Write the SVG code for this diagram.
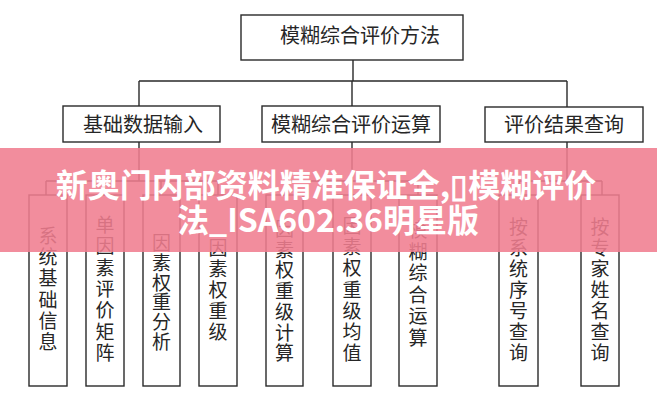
<svg xmlns="http://www.w3.org/2000/svg" width="657" height="400" viewBox="0 0 657 400">
<style>
.box{fill:#fff;stroke:#2a2a2a;stroke-width:1.4}
.ln{fill:none;stroke:#2a2a2a;stroke-width:1.4}
.t{font-family:"Noto Sans CJK SC","Noto Sans CJK JP",sans-serif;font-size:20px;fill:#262626;text-anchor:middle}
.v{font-family:"Noto Sans CJK SC","Noto Sans CJK JP",sans-serif;font-size:19px;fill:#262626;text-anchor:middle}
.bn{font-family:"Noto Sans CJK SC","Noto Sans CJK JP",sans-serif;font-size:32px;font-weight:bold;fill:#fff;text-anchor:middle}
</style>
<rect width="657" height="400" fill="#fff"/>
<g id="connectors">
<path class="ln" d="M353 60V81M139 81H567M139 81V106M352 81V106M567 81V107"/>
<path class="ln" d="M139 142V181M46 181H218M46 181V195M105 181V195M161 181V195M218 181V195"/>
<path class="ln" d="M352 142V181M285 181H418M285 181V195M352 181V195M418 181V195"/>
<path class="ln" d="M567 142V181M519 181H602M519 181V195M602 181V195"/>
</g>
<g id="root"><rect class="box" x="241" y="15" width="222" height="45"/><text class="t" x="360" y="43">模糊综合评价方法</text></g>
<g id="n1"><rect class="box" x="63" y="106" width="157" height="36"/><text class="t" x="143" y="132">基础数据输入</text></g>
<g id="n2"><rect class="box" x="262" y="106" width="178" height="36"/><text class="t" x="351" y="132">模糊综合评价运算</text></g>
<g id="n3"><rect class="box" x="485" y="107" width="158" height="35"/><text class="t" x="564" y="132">评价结果查询</text></g>
<g id="l1"><rect class="box" x="29" y="195" width="38" height="191"/><text class="v"><tspan x="48" y="243">系</tspan><tspan x="48" dy="21.2">统</tspan><tspan x="48" dy="21.2">基</tspan><tspan x="48" dy="21.2">础</tspan><tspan x="48" dy="21.2">信</tspan><tspan x="48" dy="21.2">息</tspan></text></g>
<g id="l2"><rect class="box" x="86" y="195" width="38" height="191"/><text class="v"><tspan x="105" y="232">单</tspan><tspan x="105" dy="21.3">因</tspan><tspan x="105" dy="21.3">素</tspan><tspan x="105" dy="21.3">评</tspan><tspan x="105" dy="21.3">价</tspan><tspan x="105" dy="21.3">矩</tspan><tspan x="105" dy="21.3">阵</tspan></text></g>
<g id="l3"><rect class="box" x="143" y="195" width="37" height="191"/><text class="v"><tspan x="161.5" y="250">因</tspan><tspan x="161.5" dy="19.8">素</tspan><tspan x="161.5" dy="19.8">权</tspan><tspan x="161.5" dy="19.8">重</tspan><tspan x="161.5" dy="19.8">分</tspan><tspan x="161.5" dy="19.8">析</tspan></text></g>
<g id="l4"><rect class="box" x="199" y="195" width="38" height="191"/><text class="v"><tspan x="218" y="255">因</tspan><tspan x="218" dy="21">素</tspan><tspan x="218" dy="21">权</tspan><tspan x="218" dy="21">重</tspan><tspan x="218" dy="21">级</tspan></text></g>
<g id="l5"><rect class="box" x="266" y="195" width="37" height="191"/><text class="v"><tspan x="284.5" y="236">因</tspan><tspan x="284.5" dy="20.7">素</tspan><tspan x="284.5" dy="20.7">权</tspan><tspan x="284.5" dy="20.7">重</tspan><tspan x="284.5" dy="20.7">级</tspan><tspan x="284.5" dy="20.7">计</tspan><tspan x="284.5" dy="20.7">算</tspan></text></g>
<g id="l6"><rect class="box" x="333" y="195" width="38" height="191"/><text class="v"><tspan x="352" y="233">因</tspan><tspan x="352" dy="21.2">素</tspan><tspan x="352" dy="21.2">权</tspan><tspan x="352" dy="21.2">重</tspan><tspan x="352" dy="21.2">级</tspan><tspan x="352" dy="21.2">均</tspan><tspan x="352" dy="21.2">值</tspan></text></g>
<g id="l7"><rect class="box" x="399" y="195" width="38" height="191"/><text class="v"><tspan x="418" y="237">模</tspan><tspan x="418" dy="21.6">糊</tspan><tspan x="418" dy="21.6">综</tspan><tspan x="418" dy="21.6">合</tspan><tspan x="418" dy="21.6">运</tspan><tspan x="418" dy="21.6">算</tspan></text></g>
<g id="l8"><rect class="box" x="499" y="195" width="39" height="191"/><text class="v"><tspan x="518.5" y="234">按</tspan><tspan x="518.5" dy="21">系</tspan><tspan x="518.5" dy="21">统</tspan><tspan x="518.5" dy="21">序</tspan><tspan x="518.5" dy="21">号</tspan><tspan x="518.5" dy="21">查</tspan><tspan x="518.5" dy="21">询</tspan></text></g>
<g id="l9"><rect class="box" x="581" y="195" width="38" height="191"/><text class="v"><tspan x="600" y="234">按</tspan><tspan x="600" dy="21">专</tspan><tspan x="600" dy="21">家</tspan><tspan x="600" dy="21">姓</tspan><tspan x="600" dy="21">名</tspan><tspan x="600" dy="21">查</tspan><tspan x="600" dy="21">询</tspan></text></g>
<g id="banner">
<rect x="0" y="148" width="657" height="104" fill="#f07d90" opacity="0.88"/>
<text class="bn" x="326" y="197">新奥门内部资料精准保证全,▯模糊评价</text>
<text class="bn" x="328" y="232">法_ISA602.36明星版</text>
</g>
</svg>
